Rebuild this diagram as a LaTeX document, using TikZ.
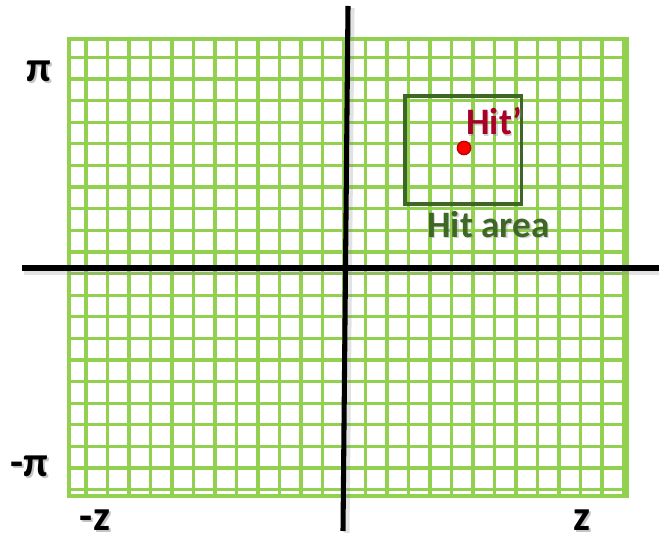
\documentclass[tikz,border=0pt]{standalone}
\usepackage{fontspec}
\setmainfont{Carlito}
\usepackage{xcolor}
\definecolor{GridGreen}{RGB}{146,208,80}
\definecolor{AreaGreen}{RGB}{62,102,38}
\definecolor{HitRed}{RGB}{168,0,38}
\definecolor{DotRed}{RGB}{255,0,0}
\definecolor{DotEdge}{RGB}{190,0,0}
\colorlet{ShadowGray}{black!45}
\usetikzlibrary{
    positioning,
    calc
}

\tikzset{
    gridline/.style={
        GridGreen,
        line width=2.4pt
    },
    axisline/.style={
        black,
        line width=3.8pt
    },
    axisshadow/.style={
        ShadowGray,
        opacity=0.25,
        line width=3.8pt
    },
    axislabel/.style={
        font=\fontsize{32}{38}\selectfont\bfseries,
        inner sep=0pt
    },
    hitlabel/.style={
        font=\fontsize{28}{33}\selectfont\bfseries,
        inner sep=0pt,
        anchor=base west
    }
}

\begin{document}
\begin{tikzpicture}[x=0.75pt,y=-0.75pt]
%
    \useasboundingbox (0,0) rectangle (659,538);
%
    % Grid
%
    \foreach \gx in {0,...,25} {
        \draw[gridline] (86+21.5*\gx,39) -- (86+21.5*\gx,496);
    }
    \foreach \gy in {0,...,20} {
        \draw[gridline] (69,57.5+21.6*\gy) -- (627,57.5+21.6*\gy);
    }
    \draw[gridline] (69,39) rectangle (627,496);
%
    % Axes
%
    \draw[axisshadow] (24,272) -- (659,272);
    \draw[axisshadow] (352,8) -- (347,533);
    \draw[axisline] (22,268) -- (659,268);
    \draw[axisline] (348,6) -- (343,531);
%
    % Axis labels
%
    \node[axislabel, ShadowGray, opacity=0.5] (pi-top-sh) at (41,73) {π};
    \node[axislabel] (pi-top) at (39,71) {π};
%
    \node[axislabel, ShadowGray, opacity=0.5] (pi-bot-sh) at (31,468) {-π};
    \node[axislabel] (pi-bot) at (29,466) {-π};
%
    \node[axislabel, ShadowGray, opacity=0.5] (z-neg-sh) at (97,522) {-z};
    \node[axislabel] (z-neg) at (95,520) {-z};
%
    \node[axislabel, ShadowGray, opacity=0.5] (z-pos-sh) at (584,522) {z};
    \node[axislabel] (z-pos) at (582,520) {z};
%
    % Hit area
%
    \draw[
        AreaGreen,
        line width=2.3pt
    ]
    (405,96) rectangle (521.5,204);
%
    \node[
        circle,
        fill=DotRed,
        draw=DotEdge,
        line width=1pt,
        minimum size=10pt,
        inner sep=0pt
    ] (hit) at (464,148) {};
%
    \node[hitlabel, ShadowGray, opacity=0.4] (hit-label-sh) at (467.5,136.5) {Hit’};
    \node[hitlabel, HitRed] (hit-label) at (466,135) {Hit’};
%
    \node[hitlabel, ShadowGray, opacity=0.4] (area-label-sh) at (428.5,238.5) {Hit area};
    \node[hitlabel, AreaGreen] (area-label) at (427,237) {Hit area};
%
\end{tikzpicture}
\end{document}
